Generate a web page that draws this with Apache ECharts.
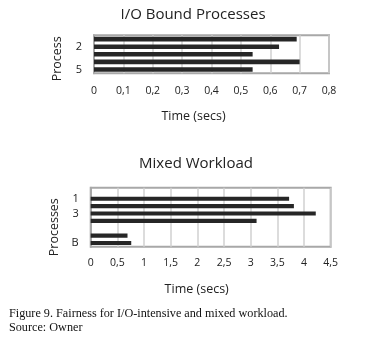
<!DOCTYPE html>
<html>
<head>
<meta charset="utf-8">
<script src="https://cdn.jsdelivr.net/npm/echarts@6/dist/echarts.min.js"></script>
<style>
html,body{margin:0;padding:0;background:#fff;}
#c{width:373px;height:341px;}
</style>
</head>
<body>
<div id="c"></div>
<script>
// Top chart: I/O Bound Processes (categories listed bottom-to-top)
var ioCategories = ['5', '4', '3', '2', '1'];
var ioValues = [0.54, 0.70, 0.54, 0.63, 0.69];
var ioTicks = ['0', '0,1', '0,2', '0,3', '0,4', '0,5', '0,6', '0,7', '0,8'];

// Bottom chart: Mixed Workload (categories listed bottom-to-top)
var mixCategories = ['B', 'A', '', '4', '3', '2', '1', ''];
var mixValues = [0.76, 0.69, null, 3.11, 4.22, 3.81, 3.72, null];
var mixTicks = ['0', '0,5', '1', '1,5', '2', '2,5', '3', '3,5', '4', '4,5'];

var FONT = 'Open Sans';
var BAR = '#262626';
var GRIDLINE = '#d0d0d0';
var FRAME = '#a8a8a8';

function fmt(list, step) {
  return function (v) {
    var i = Math.round(v / step);
    return list[i] !== undefined ? list[i] : '';
  };
}

var chart = echarts.init(document.getElementById('c'), null, {renderer: 'canvas'});
chart.setOption({
  backgroundColor: '#fff',
  animation: false,
  title: [
    {text: 'I/O Bound Processes', left: 193, top: 7, padding: 0, textAlign: 'center',
     textStyle: {fontFamily: FONT, fontSize: 15, fontWeight: 'normal', color: '#222'}},
    {text: 'Mixed Workload', left: 196, top: 156, padding: 0, textAlign: 'center',
     textStyle: {fontFamily: FONT, fontSize: 15, fontWeight: 'normal', color: '#222'}},
    {text: 'Figure 9. Fairness for I/O-intensive and mixed workload.\nSource: Owner', left: 9, top: 306, padding: 0,
     textStyle: {fontFamily: 'Liberation Serif', fontSize: 12.2, fontWeight: 'normal', color: '#111', lineHeight: 14.7}}
  ],
  grid: [
    {left: 94, right: 44, top: 35.3, height: 38, show: true, borderColor: FRAME, borderWidth: 2, containLabel: false},
    {left: 90.7, right: 42.3, top: 187.7, height: 59, show: true, borderColor: FRAME, borderWidth: 2, containLabel: false}
  ],
  xAxis: [
    {type: 'value', gridIndex: 0, min: 0, max: 0.8, interval: 0.1,
     name: 'Time (secs)', nameLocation: 'middle', nameGap: 37,
     nameTextStyle: {fontFamily: FONT, fontSize: 12.5, color: '#222', padding: [0, 36, 0, 0]},
     axisLine: {show: false}, axisTick: {show: false},
     axisLabel: {formatter: fmt(ioTicks, 0.1), margin: 12, fontFamily: FONT, fontSize: 10.5, color: '#222'},
     splitLine: {show: true, lineStyle: {color: GRIDLINE, width: 1.5}}},
    {type: 'value', gridIndex: 1, min: 0, max: 4.5, interval: 0.5,
     name: 'Time (secs)', nameLocation: 'middle', nameGap: 36,
     nameTextStyle: {fontFamily: FONT, fontSize: 12.5, color: '#222', padding: [0, 28, 0, 0]},
     axisLine: {show: false}, axisTick: {show: false},
     axisLabel: {formatter: fmt(mixTicks, 0.5), margin: 11, fontFamily: FONT, fontSize: 10.5, color: '#222'},
     splitLine: {show: true, lineStyle: {color: GRIDLINE, width: 1.5}}}
  ],
  yAxis: [
    {type: 'category', gridIndex: 0, data: ioCategories,
     name: 'Process', nameLocation: 'middle', nameRotate: 90, nameGap: 30,
     nameTextStyle: {fontFamily: FONT, fontSize: 12.5, color: '#222', padding: [0, 9, 0, 0]},
     axisLine: {show: true, lineStyle: {color: FRAME, width: 2}}, axisTick: {show: false},
     axisLabel: {interval: 2, margin: 12, fontFamily: FONT, fontSize: 11, color: '#222'},
     splitLine: {show: false}},
    {type: 'category', gridIndex: 1, data: mixCategories,
     name: 'Processes', nameLocation: 'middle', nameRotate: 90, nameGap: 30,
     nameTextStyle: {fontFamily: FONT, fontSize: 12.5, color: '#222', padding: [0, 20, 0, 0]},
     axisLine: {show: true, lineStyle: {color: FRAME, width: 2}}, axisTick: {show: false},
     axisLabel: {interval: 1, margin: 12, fontFamily: FONT, fontSize: 11, color: '#222'},
     splitLine: {show: false}}
  ],
  series: [
    {type: 'bar', xAxisIndex: 0, yAxisIndex: 0, data: ioValues, barWidth: 4.6,
     itemStyle: {color: BAR}, silent: true},
    {type: 'bar', xAxisIndex: 1, yAxisIndex: 1, data: mixValues, barWidth: 4.2,
     itemStyle: {color: BAR}, silent: true}
  ]
});
</script>
</body>
</html>
